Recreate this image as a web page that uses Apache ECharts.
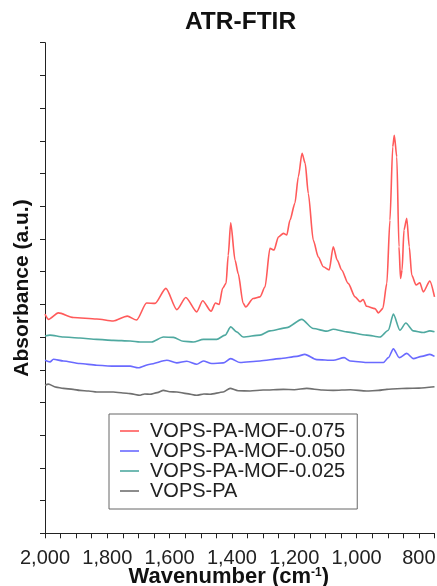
<!DOCTYPE html>
<html>
<head>
<meta charset="utf-8">
<script src="https://cdn.jsdelivr.net/npm/echarts@6/dist/echarts.min.js"></script>
<style>
  html, body { margin: 0; padding: 0; background: #fff; }
  #chart { width: 437px; height: 586px; }
</style>
</head>
<body>
<div id="chart"></div>
<script>
// [wavenumber (cm-1), absorbance (a.u., offset stacked)]
const seriesNames = ['VOPS-PA-MOF-0.075', 'VOPS-PA-MOF-0.050', 'VOPS-PA-MOF-0.025', 'VOPS-PA'];
const seriesColors = ['#ff5a5a', '#6a6aff', '#4fa9a0', '#707070'];

const mof075 = [
  [2000, 6.70], [1989, 6.54], [1957, 6.74], [1909, 6.60], [1834, 6.55], [1781, 6.49],
  [1736, 6.64], [1706, 6.52], [1674, 7.04], [1647, 7.03], [1612, 7.49], [1577, 6.84],
  [1548, 7.21], [1513, 6.77], [1494, 7.11], [1467, 6.79], [1453, 7.04], [1441, 7.00],
  [1430, 7.49], [1419, 7.64], [1412, 8.50], [1404, 9.49], [1390, 8.35], [1380, 7.94],
  [1364, 7.03], [1356, 6.92], [1332, 7.18], [1310, 7.23], [1294, 7.53], [1278, 8.71],
  [1265, 8.66], [1251, 9.06], [1235, 9.17], [1224, 9.12], [1214, 9.57], [1198, 10.09],
  [1187, 10.90], [1175, 11.62], [1165, 11.31], [1155, 10.39], [1139, 8.96], [1123, 8.45],
  [1107, 8.15], [1088, 8.05], [1075, 8.76], [1062, 8.35], [1048, 8.05], [1027, 7.64],
  [1005, 7.23], [989, 7.08], [979, 7.15], [968, 6.94], [941, 6.87], [930, 6.74],
  [916, 6.87], [903, 7.64], [893, 9.57], [884, 11.82], [879, 12.17], [871, 11.51],
  [864, 8.76], [859, 7.79], [854, 8.05], [848, 9.27], [839, 9.63], [831, 8.76],
  [823, 7.89], [809, 7.59], [797, 7.66], [786, 7.38], [765, 7.71], [750, 7.23]
];

const mof050 = [
  [2000, 5.29], [1984, 5.24], [1973, 5.32], [1941, 5.27], [1888, 5.19], [1834, 5.14],
  [1781, 5.11], [1727, 5.11], [1701, 5.06], [1663, 5.17], [1609, 5.29], [1577, 5.21],
  [1545, 5.26], [1513, 5.17], [1492, 5.27], [1465, 5.19], [1428, 5.21], [1404, 5.34],
  [1374, 5.22], [1310, 5.27], [1246, 5.34], [1192, 5.41], [1166, 5.47], [1128, 5.31],
  [1075, 5.29], [1040, 5.37], [1021, 5.27], [968, 5.22], [914, 5.22], [898, 5.37],
  [882, 5.64], [863, 5.37], [839, 5.50], [818, 5.34], [791, 5.41], [765, 5.47], [750, 5.41]
];

const mof025 = [
  [2000, 6.03], [1984, 6.06], [1941, 6.00], [1888, 5.97], [1834, 5.93], [1781, 5.90],
  [1727, 5.88], [1695, 5.85], [1658, 5.85], [1620, 6.00], [1588, 5.99], [1556, 5.87],
  [1524, 5.85], [1492, 5.93], [1449, 5.93], [1422, 6.06], [1404, 6.31], [1385, 6.16],
  [1364, 6.00], [1310, 6.06], [1278, 6.19], [1224, 6.29], [1176, 6.54], [1139, 6.26],
  [1096, 6.18], [1075, 6.24], [1032, 6.16], [968, 6.06], [925, 6.00], [898, 6.21],
  [882, 6.70], [861, 6.21], [842, 6.43], [818, 6.19], [786, 6.14], [765, 6.19], [750, 6.16]
];

const vopsPa = [
  [2000, 4.53], [1989, 4.56], [1965, 4.47], [1941, 4.43], [1910, 4.40], [1888, 4.37],
  [1860, 4.35], [1834, 4.32], [1781, 4.32], [1750, 4.29], [1727, 4.27], [1695, 4.22],
  [1680, 4.26], [1663, 4.25], [1640, 4.30], [1620, 4.37], [1600, 4.33], [1577, 4.32],
  [1545, 4.27], [1513, 4.22], [1490, 4.26], [1470, 4.25], [1428, 4.32], [1406, 4.43],
  [1380, 4.36], [1342, 4.35], [1300, 4.38], [1235, 4.40], [1200, 4.39], [1160, 4.43],
  [1110, 4.38], [1075, 4.37], [1020, 4.39], [968, 4.35], [930, 4.37], [903, 4.40],
  [870, 4.42], [839, 4.43], [800, 4.44], [750, 4.48]
];

const xMin = 750, xMax = 2000, xStep = 50, xLabelStep = 200;
const yMin = 0, yMax = 15, yStep = 1;

const font = '"Liberation Sans", Arial, Helvetica, sans-serif';
const axisColor = '#222';

const chart = echarts.init(document.getElementById('chart'));

const option = {
  animation: false,
  title: {
    text: 'ATR-FTIR',
    left: 185,
    top: 10,
    padding: 0,
    textStyle: { fontFamily: font, fontSize: 24.5, fontWeight: 'bold', color: '#111' }
  },
  grid: { left: 45, right: 2.5, top: 42.7, bottom: 52.7, containLabel: false, outerBoundsMode: 'none' },
  legend: {
    orient: 'vertical',
    left: 109,
    top: 414,
    padding: [7, 12, 8, 11],
    itemGap: 0,
    itemWidth: 19,
    itemHeight: 1.6,
    icon: 'rect',
    borderColor: '#666',
    borderWidth: 1,
    backgroundColor: '#fff',
    data: seriesNames,
    textStyle: { fontFamily: font, fontSize: 20, lineHeight: 19.3, color: '#222', padding: [0, 0, 0, 6] }
  },
  xAxis: {
    type: 'value',
    min: xMin,
    max: xMax,
    interval: xStep,
    inverse: true,
    name: 'Wavenumber (cm{sup|-1})',
    nameLocation: 'middle',
    nameGap: 33,
    nameMoveOverlap: false,
    nameTextStyle: {
      fontFamily: font, fontSize: 22, fontWeight: 'bold', color: '#111',
      padding: [0, 22, 0, 0],
      rich: { sup: { fontFamily: font, fontSize: 12, fontWeight: 'bold', color: '#111', padding: [0, 0, 9, 0] } }
    },
    axisLine: { show: true, lineStyle: { color: axisColor, width: 1 } },
    axisTick: { show: true, length: 5, lineStyle: { color: axisColor } },
    axisLabel: {
      margin: 15,
      fontFamily: font,
      fontSize: 20,
      color: '#222',
      formatter: v => (v % xLabelStep === 0 ? v.toLocaleString('en-US') : '')
    },
    splitLine: { show: false }
  },
  yAxis: {
    type: 'value',
    min: yMin,
    max: yMax,
    interval: yStep,
    name: 'Absorbance (a.u.)',
    nameLocation: 'middle',
    nameGap: 12,
    nameMoveOverlap: false,
    nameTextStyle: { fontFamily: font, fontSize: 21, fontWeight: 'bold', color: '#111' },
    axisLine: { show: true, lineStyle: { color: axisColor, width: 1 } },
    axisTick: { show: true, length: 5, lineStyle: { color: axisColor } },
    axisLabel: { show: false },
    splitLine: { show: false }
  },
  series: [mof075, mof050, mof025, vopsPa].map((d, i) => ({
    name: seriesNames[i],
    type: 'line',
    data: d,
    symbol: 'none',
    smooth: 0.25,
    smoothMonotone: 'x',
    lineStyle: { color: seriesColors[i], width: 1.6 },
    itemStyle: { color: seriesColors[i] }
  }))
};

chart.setOption(option);
</script>
</body>
</html>
